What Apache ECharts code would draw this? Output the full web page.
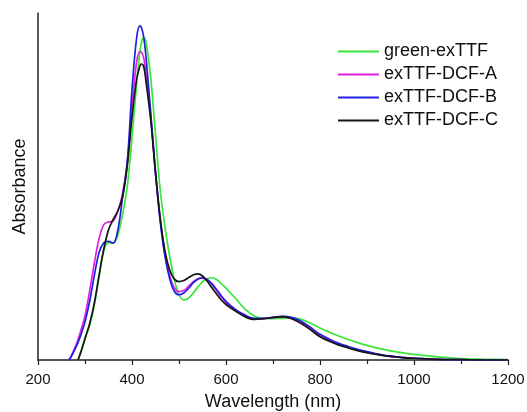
<!DOCTYPE html>
<html>
<head>
<meta charset="utf-8">
<script src="https://cdn.jsdelivr.net/npm/echarts@6/dist/echarts.min.js"></script>
<style>
  html, body { margin: 0; padding: 0; background: #fff; }
  #chart { width: 527px; height: 412px; }
</style>
</head>
<body>
<div id="chart"></div>
<script>
// wavelength grid (nm)
var wavelength = [265, 270, 280, 285, 290, 300, 310, 320, 330, 340, 350, 360, 370, 380, 390, 400, 410, 417, 420, 425, 430, 440, 450, 460, 470, 480, 490, 500, 510, 520, 530, 540, 550, 560, 570, 580, 590, 600, 620, 640, 660, 680, 700, 720, 740, 760, 780, 800, 820, 840, 860, 880, 900, 920, 940, 960, 980, 1000, 1050, 1100, 1150, 1200];

var greenExTTF = [null, null, null, 0, 0.017, 0.06, 0.1, 0.16, 0.24, 0.315, 0.338, 0.337, 0.36, 0.42, 0.5, 0.64, 0.8, 0.89, 0.915, 0.929, 0.915, 0.81, 0.65, 0.49, 0.385, 0.3, 0.232, 0.188, 0.173, 0.178, 0.192, 0.21, 0.225, 0.234, 0.237, 0.232, 0.22, 0.207, 0.178, 0.147, 0.127, 0.12, 0.119, 0.12, 0.121, 0.117, 0.106, 0.092, 0.08, 0.069, 0.059, 0.05, 0.042, 0.035, 0.029, 0.024, 0.02, 0.016, 0.009, 0.004, 0.002, 0.001];

var dcfA = [0, 0.01, 0.04, 0.058, 0.08, 0.127, 0.2, 0.28, 0.35, 0.39, 0.398, 0.401, 0.43, 0.48, 0.57, 0.73, 0.86, 0.889, 0.888, 0.87, 0.82, 0.7, 0.54, 0.405, 0.305, 0.245, 0.208, 0.197, 0.2, 0.212, 0.225, 0.234, 0.236, 0.23, 0.217, 0.2, 0.182, 0.166, 0.143, 0.127, 0.118, 0.119, 0.122, 0.124, 0.12, 0.108, 0.09, 0.07, 0.057, 0.045, 0.037, 0.029, 0.022, 0.017, 0.012, 0.009, 0.007, 0.005, 0.002, 0.001, 0, 0];

var dcfB = [0, 0.008, 0.035, 0.05, 0.068, 0.11, 0.17, 0.245, 0.31, 0.338, 0.342, 0.337, 0.375, 0.47, 0.57, 0.78, 0.93, 0.963, 0.958, 0.93, 0.87, 0.71, 0.54, 0.4, 0.3, 0.235, 0.198, 0.188, 0.193, 0.206, 0.222, 0.233, 0.237, 0.232, 0.22, 0.203, 0.185, 0.169, 0.146, 0.13, 0.12, 0.12, 0.123, 0.126, 0.123, 0.112, 0.094, 0.074, 0.06, 0.048, 0.039, 0.031, 0.024, 0.018, 0.013, 0.01, 0.007, 0.005, 0.002, 0.001, 0, 0];

var dcfC = [null, null, null, 0, 0.018, 0.062, 0.105, 0.165, 0.245, 0.32, 0.375, 0.405, 0.43, 0.47, 0.56, 0.7, 0.81, 0.848, 0.853, 0.845, 0.8, 0.69, 0.54, 0.41, 0.315, 0.26, 0.233, 0.226, 0.229, 0.237, 0.245, 0.248, 0.242, 0.227, 0.208, 0.19, 0.173, 0.16, 0.141, 0.125, 0.117, 0.119, 0.123, 0.125, 0.119, 0.105, 0.087, 0.067, 0.054, 0.043, 0.035, 0.027, 0.021, 0.016, 0.012, 0.009, 0.006, 0.005, 0.002, 0.001, 0, 0];

var seriesNames = ['green-exTTF', 'exTTF-DCF-A', 'exTTF-DCF-B', 'exTTF-DCF-C'];
var seriesColors = ['#3ae63a', '#e020e0', '#2020e0', '#151515'];
var seriesValues = [greenExTTF, dcfA, dcfB, dcfC];

var font = 'Liberation Sans, Arial, sans-serif';

function pairs(vals) {
  var out = [];
  for (var i = 0; i < wavelength.length; i++) {
    if (vals[i] !== null) out.push([wavelength[i], vals[i]]);
  }
  return out;
}

var series = [];
for (var k = 0; k < seriesNames.length; k++) {
  series.push({
    name: seriesNames[k],
    type: 'line',
    data: pairs(seriesValues[k]),
    smooth: 0.35,
    symbol: 'none',
    lineStyle: { color: seriesColors[k], width: 1.7 },
    itemStyle: { color: seriesColors[k] },
    animation: false
  });
}

var chart = echarts.init(document.getElementById('chart'));
chart.setOption({
  backgroundColor: '#fff',
  animation: false,
  grid: { left: 38, right: 19, top: 13, bottom: 52, outerBoundsMode: 'none', containLabel: false },
  legend: {
    orient: 'vertical',
    left: 333,
    top: 37.5,
    icon: 'rect',
    itemWidth: 41,
    itemHeight: 2,
    itemGap: 5,
    textStyle: { fontFamily: font, fontSize: 18, color: '#111', lineHeight: 18 },
    data: seriesNames
  },
  xAxis: {
    type: 'value',
    min: 200,
    max: 1200,
    interval: 200,
    name: 'Wavelength (nm)',
    nameLocation: 'middle',
    nameGap: 33,
    nameTextStyle: { fontFamily: font, fontSize: 18, color: '#111' },
    axisLine: { lineStyle: { color: '#222', width: 1.5 } },
    axisTick: { show: true, length: 5, lineStyle: { color: '#222', width: 1.2 } },
    minorTick: { show: true, splitNumber: 2, length: 4, lineStyle: { color: '#222', width: 1.2 } },
    axisLabel: {
      fontFamily: font, fontSize: 15, color: '#111', margin: 12,
      formatter: function (v) { return String(v); }
    },
    splitLine: { show: false }
  },
  yAxis: {
    type: 'value',
    min: 0,
    max: 1,
    name: 'Absorbance',
    nameLocation: 'middle',
    nameGap: 9,
    nameTextStyle: { fontFamily: font, fontSize: 18, color: '#111' },
    axisLine: { show: true, lineStyle: { color: '#222', width: 1.5 } },
    axisTick: { show: false },
    axisLabel: { show: false },
    splitLine: { show: false }
  },
  series: series
});
</script>
</body>
</html>
